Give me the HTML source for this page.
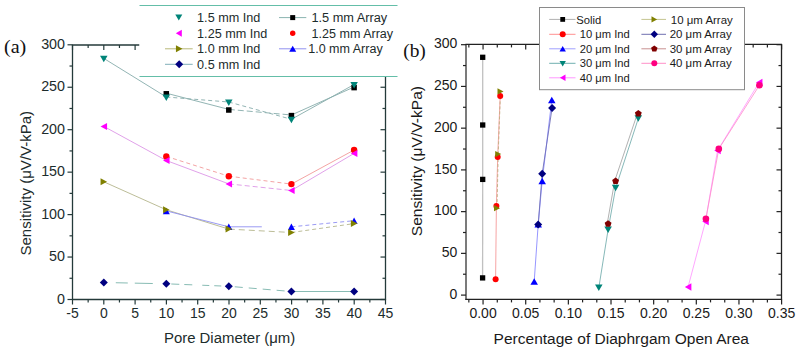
<!DOCTYPE html>
<html><head><meta charset="utf-8"><style>
html,body{margin:0;padding:0;background:#fff;}
svg{display:block;}
</style></head><body>
<svg width="800" height="352" viewBox="0 0 800 352">
<rect width="800" height="352" fill="#fff"/>
<line x1="72.50" y1="45.00" x2="72.50" y2="300.10" stroke="#243a3a" stroke-width="1.30"/>
<line x1="71.90" y1="299.50" x2="386.10" y2="299.50" stroke="#243a3a" stroke-width="1.30"/>
<line x1="71.90" y1="45.00" x2="139.50" y2="45.00" stroke="#243a3a" stroke-width="1.30"/>
<line x1="385.50" y1="76.50" x2="385.50" y2="299.50" stroke="#243a3a" stroke-width="1.30"/>
<line x1="72.50" y1="299.50" x2="72.50" y2="304.50" stroke="#243a3a" stroke-width="1.20"/>
<line x1="72.50" y1="45.00" x2="72.50" y2="50.00" stroke="#243a3a" stroke-width="1.20"/>
<line x1="88.15" y1="299.50" x2="88.15" y2="302.50" stroke="#243a3a" stroke-width="1.20"/>
<line x1="88.15" y1="45.00" x2="88.15" y2="48.00" stroke="#243a3a" stroke-width="1.20"/>
<line x1="103.80" y1="299.50" x2="103.80" y2="304.50" stroke="#243a3a" stroke-width="1.20"/>
<line x1="103.80" y1="45.00" x2="103.80" y2="50.00" stroke="#243a3a" stroke-width="1.20"/>
<line x1="119.45" y1="299.50" x2="119.45" y2="302.50" stroke="#243a3a" stroke-width="1.20"/>
<line x1="119.45" y1="45.00" x2="119.45" y2="48.00" stroke="#243a3a" stroke-width="1.20"/>
<line x1="135.10" y1="299.50" x2="135.10" y2="304.50" stroke="#243a3a" stroke-width="1.20"/>
<line x1="135.10" y1="45.00" x2="135.10" y2="50.00" stroke="#243a3a" stroke-width="1.20"/>
<line x1="150.75" y1="299.50" x2="150.75" y2="302.50" stroke="#243a3a" stroke-width="1.20"/>
<line x1="166.40" y1="299.50" x2="166.40" y2="304.50" stroke="#243a3a" stroke-width="1.20"/>
<line x1="182.05" y1="299.50" x2="182.05" y2="302.50" stroke="#243a3a" stroke-width="1.20"/>
<line x1="197.70" y1="299.50" x2="197.70" y2="304.50" stroke="#243a3a" stroke-width="1.20"/>
<line x1="213.35" y1="299.50" x2="213.35" y2="302.50" stroke="#243a3a" stroke-width="1.20"/>
<line x1="229.00" y1="299.50" x2="229.00" y2="304.50" stroke="#243a3a" stroke-width="1.20"/>
<line x1="244.65" y1="299.50" x2="244.65" y2="302.50" stroke="#243a3a" stroke-width="1.20"/>
<line x1="260.30" y1="299.50" x2="260.30" y2="304.50" stroke="#243a3a" stroke-width="1.20"/>
<line x1="275.95" y1="299.50" x2="275.95" y2="302.50" stroke="#243a3a" stroke-width="1.20"/>
<line x1="291.60" y1="299.50" x2="291.60" y2="304.50" stroke="#243a3a" stroke-width="1.20"/>
<line x1="307.25" y1="299.50" x2="307.25" y2="302.50" stroke="#243a3a" stroke-width="1.20"/>
<line x1="322.90" y1="299.50" x2="322.90" y2="304.50" stroke="#243a3a" stroke-width="1.20"/>
<line x1="338.55" y1="299.50" x2="338.55" y2="302.50" stroke="#243a3a" stroke-width="1.20"/>
<line x1="354.20" y1="299.50" x2="354.20" y2="304.50" stroke="#243a3a" stroke-width="1.20"/>
<line x1="369.85" y1="299.50" x2="369.85" y2="302.50" stroke="#243a3a" stroke-width="1.20"/>
<line x1="385.50" y1="299.50" x2="385.50" y2="304.50" stroke="#243a3a" stroke-width="1.20"/>
<line x1="72.50" y1="299.50" x2="67.50" y2="299.50" stroke="#243a3a" stroke-width="1.20"/>
<line x1="385.50" y1="299.50" x2="380.50" y2="299.50" stroke="#243a3a" stroke-width="1.20"/>
<line x1="72.50" y1="278.27" x2="69.50" y2="278.27" stroke="#243a3a" stroke-width="1.20"/>
<line x1="385.50" y1="278.27" x2="382.50" y2="278.27" stroke="#243a3a" stroke-width="1.20"/>
<line x1="72.50" y1="257.05" x2="67.50" y2="257.05" stroke="#243a3a" stroke-width="1.20"/>
<line x1="385.50" y1="257.05" x2="380.50" y2="257.05" stroke="#243a3a" stroke-width="1.20"/>
<line x1="72.50" y1="235.82" x2="69.50" y2="235.82" stroke="#243a3a" stroke-width="1.20"/>
<line x1="385.50" y1="235.82" x2="382.50" y2="235.82" stroke="#243a3a" stroke-width="1.20"/>
<line x1="72.50" y1="214.60" x2="67.50" y2="214.60" stroke="#243a3a" stroke-width="1.20"/>
<line x1="385.50" y1="214.60" x2="380.50" y2="214.60" stroke="#243a3a" stroke-width="1.20"/>
<line x1="72.50" y1="193.38" x2="69.50" y2="193.38" stroke="#243a3a" stroke-width="1.20"/>
<line x1="385.50" y1="193.38" x2="382.50" y2="193.38" stroke="#243a3a" stroke-width="1.20"/>
<line x1="72.50" y1="172.15" x2="67.50" y2="172.15" stroke="#243a3a" stroke-width="1.20"/>
<line x1="385.50" y1="172.15" x2="380.50" y2="172.15" stroke="#243a3a" stroke-width="1.20"/>
<line x1="72.50" y1="150.93" x2="69.50" y2="150.93" stroke="#243a3a" stroke-width="1.20"/>
<line x1="385.50" y1="150.93" x2="382.50" y2="150.93" stroke="#243a3a" stroke-width="1.20"/>
<line x1="72.50" y1="129.70" x2="67.50" y2="129.70" stroke="#243a3a" stroke-width="1.20"/>
<line x1="385.50" y1="129.70" x2="380.50" y2="129.70" stroke="#243a3a" stroke-width="1.20"/>
<line x1="72.50" y1="108.47" x2="69.50" y2="108.47" stroke="#243a3a" stroke-width="1.20"/>
<line x1="385.50" y1="108.47" x2="382.50" y2="108.47" stroke="#243a3a" stroke-width="1.20"/>
<line x1="72.50" y1="87.25" x2="67.50" y2="87.25" stroke="#243a3a" stroke-width="1.20"/>
<line x1="385.50" y1="87.25" x2="380.50" y2="87.25" stroke="#243a3a" stroke-width="1.20"/>
<line x1="72.50" y1="66.03" x2="69.50" y2="66.03" stroke="#243a3a" stroke-width="1.20"/>
<line x1="72.50" y1="44.80" x2="67.50" y2="44.80" stroke="#243a3a" stroke-width="1.20"/>
<text x="72.50" y="318.00" font-family="Liberation Sans" font-size="14.00" fill="#1c2c2c" text-anchor="middle">-5</text>
<text x="103.80" y="318.00" font-family="Liberation Sans" font-size="14.00" fill="#1c2c2c" text-anchor="middle">0</text>
<text x="135.10" y="318.00" font-family="Liberation Sans" font-size="14.00" fill="#1c2c2c" text-anchor="middle">5</text>
<text x="166.40" y="318.00" font-family="Liberation Sans" font-size="14.00" fill="#1c2c2c" text-anchor="middle">10</text>
<text x="197.70" y="318.00" font-family="Liberation Sans" font-size="14.00" fill="#1c2c2c" text-anchor="middle">15</text>
<text x="229.00" y="318.00" font-family="Liberation Sans" font-size="14.00" fill="#1c2c2c" text-anchor="middle">20</text>
<text x="260.30" y="318.00" font-family="Liberation Sans" font-size="14.00" fill="#1c2c2c" text-anchor="middle">25</text>
<text x="291.60" y="318.00" font-family="Liberation Sans" font-size="14.00" fill="#1c2c2c" text-anchor="middle">30</text>
<text x="322.90" y="318.00" font-family="Liberation Sans" font-size="14.00" fill="#1c2c2c" text-anchor="middle">35</text>
<text x="354.20" y="318.00" font-family="Liberation Sans" font-size="14.00" fill="#1c2c2c" text-anchor="middle">40</text>
<text x="385.50" y="318.00" font-family="Liberation Sans" font-size="14.00" fill="#1c2c2c" text-anchor="middle">45</text>
<text x="65.00" y="303.60" font-family="Liberation Sans" font-size="14.30" fill="#1c2c2c" text-anchor="end">0</text>
<text x="65.00" y="261.15" font-family="Liberation Sans" font-size="14.30" fill="#1c2c2c" text-anchor="end">50</text>
<text x="65.00" y="218.70" font-family="Liberation Sans" font-size="14.30" fill="#1c2c2c" text-anchor="end">100</text>
<text x="65.00" y="176.25" font-family="Liberation Sans" font-size="14.30" fill="#1c2c2c" text-anchor="end">150</text>
<text x="65.00" y="133.80" font-family="Liberation Sans" font-size="14.30" fill="#1c2c2c" text-anchor="end">200</text>
<text x="65.00" y="91.35" font-family="Liberation Sans" font-size="14.30" fill="#1c2c2c" text-anchor="end">250</text>
<text x="65.00" y="48.90" font-family="Liberation Sans" font-size="14.30" fill="#1c2c2c" text-anchor="end">300</text>
<text x="229.60" y="343.00" font-family="Liberation Sans" font-size="14.00" fill="#1c2c2c" text-anchor="middle" textLength="131.30" lengthAdjust="spacingAndGlyphs">Pore Diameter (μm)</text>
<text transform="translate(31,183.25) rotate(-90)" font-family="Liberation Sans" font-size="14" fill="#1c2c2c" text-anchor="middle" textLength="144.6" lengthAdjust="spacingAndGlyphs">Sensitivity (μV/V-kPa)</text>
<text x="4.00" y="52.70" font-family="Liberation Serif" font-size="19.00" fill="#111" text-anchor="start" textLength="22.30" lengthAdjust="spacingAndGlyphs">(a)</text>
<line x1="103.80" y1="58.40" x2="166.30" y2="97.00" stroke="#86acaa" stroke-width="0.90"/>
<line x1="166.30" y1="97.00" x2="228.80" y2="102.00" stroke="#86acaa" stroke-width="0.90" stroke-dasharray="4,3"/>
<line x1="228.80" y1="102.00" x2="291.40" y2="119.30" stroke="#86acaa" stroke-width="0.90" stroke-dasharray="4,3"/>
<line x1="291.40" y1="119.30" x2="354.10" y2="84.50" stroke="#86acaa" stroke-width="0.90"/>
<line x1="166.30" y1="93.20" x2="228.80" y2="109.40" stroke="#86acaa" stroke-width="0.90"/>
<line x1="228.80" y1="109.40" x2="291.40" y2="115.00" stroke="#86acaa" stroke-width="0.90" stroke-dasharray="6,3"/>
<line x1="291.40" y1="115.00" x2="354.10" y2="87.00" stroke="#86acaa" stroke-width="0.90"/>
<line x1="103.80" y1="126.40" x2="166.30" y2="160.50" stroke="#dc96e6" stroke-width="0.90"/>
<line x1="166.30" y1="160.50" x2="228.80" y2="183.90" stroke="#dc96e6" stroke-width="0.90"/>
<line x1="228.80" y1="183.90" x2="291.40" y2="190.50" stroke="#dc96e6" stroke-width="0.90" stroke-dasharray="5,3"/>
<line x1="291.40" y1="190.50" x2="354.10" y2="153.40" stroke="#dc96e6" stroke-width="0.90"/>
<line x1="166.30" y1="156.40" x2="228.80" y2="176.20" stroke="#f29a9a" stroke-width="0.90" stroke-dasharray="4,3"/>
<line x1="228.80" y1="176.20" x2="291.40" y2="184.10" stroke="#f29a9a" stroke-width="0.90" stroke-dasharray="4,3"/>
<line x1="291.40" y1="184.10" x2="354.10" y2="150.00" stroke="#f29a9a" stroke-width="0.90"/>
<line x1="103.80" y1="181.80" x2="166.30" y2="209.80" stroke="#b4b68c" stroke-width="0.90"/>
<line x1="166.30" y1="209.80" x2="228.80" y2="229.10" stroke="#b4b68c" stroke-width="0.90"/>
<line x1="228.80" y1="229.10" x2="291.40" y2="232.50" stroke="#b4b68c" stroke-width="0.90" stroke-dasharray="6,4"/>
<line x1="291.40" y1="232.50" x2="354.10" y2="223.60" stroke="#b4b68c" stroke-width="0.90" stroke-dasharray="4,3"/>
<line x1="166.30" y1="210.90" x2="228.80" y2="226.80" stroke="#8e8ef2" stroke-width="0.90"/>
<line x1="228.80" y1="226.80" x2="291.40" y2="226.80" stroke="#8e8ef2" stroke-width="0.90" stroke-dasharray="33,40"/>
<line x1="291.40" y1="226.80" x2="354.10" y2="220.70" stroke="#8e8ef2" stroke-width="0.90" stroke-dasharray="4,3"/>
<line x1="103.80" y1="282.50" x2="166.30" y2="283.80" stroke="#88bcb4" stroke-width="1.00" stroke-dasharray="0,12,12,7,18,100"/>
<line x1="166.30" y1="283.80" x2="228.80" y2="286.30" stroke="#88bcb4" stroke-width="1.00" stroke-dasharray="0,5,8,5,8,10,7,5,7,100"/>
<line x1="228.80" y1="286.30" x2="291.40" y2="291.50" stroke="#88bcb4" stroke-width="1.00" stroke-dasharray="0,6,8,6,8,6,8,6,8,100"/>
<line x1="291.40" y1="291.50" x2="354.10" y2="291.50" stroke="#88bcb4" stroke-width="1.00"/>
<polygon points="100.05,55.85 107.55,55.85 103.80,62.35" fill="#008478"/>
<rect x="163.55" y="91.05" width="5.50" height="5.50" fill="#000"/>
<polygon points="162.55,94.45 170.05,94.45 166.30,100.95" fill="#008478"/>
<rect x="226.05" y="107.25" width="5.50" height="5.50" fill="#000"/>
<polygon points="225.05,99.45 232.55,99.45 228.80,105.95" fill="#008478"/>
<rect x="288.65" y="112.85" width="5.50" height="5.50" fill="#000"/>
<polygon points="287.65,116.75 295.15,116.75 291.40,123.25" fill="#008478"/>
<rect x="351.35" y="84.85" width="5.50" height="5.50" fill="#000"/>
<polygon points="350.35,81.95 357.85,81.95 354.10,88.45" fill="#008478"/>
<polygon points="107.05,122.90 107.05,129.90 100.55,126.40" fill="#ff00ff"/>
<circle cx="166.30" cy="156.40" r="3.20" fill="#ff0000"/>
<polygon points="169.55,157.00 169.55,164.00 163.05,160.50" fill="#ff00ff"/>
<circle cx="228.80" cy="176.20" r="3.20" fill="#ff0000"/>
<polygon points="232.05,180.40 232.05,187.40 225.55,183.90" fill="#ff00ff"/>
<circle cx="291.40" cy="184.10" r="3.20" fill="#ff0000"/>
<polygon points="294.65,187.00 294.65,194.00 288.15,190.50" fill="#ff00ff"/>
<circle cx="354.10" cy="150.00" r="3.20" fill="#ff0000"/>
<polygon points="357.35,149.90 357.35,156.90 350.85,153.40" fill="#ff00ff"/>
<polygon points="100.55,178.30 100.55,185.30 107.05,181.80" fill="#808000"/>
<polygon points="162.80,214.15 169.80,214.15 166.30,207.65" fill="#0000ff"/>
<polygon points="163.05,206.30 163.05,213.30 169.55,209.80" fill="#808000"/>
<polygon points="225.30,230.05 232.30,230.05 228.80,223.55" fill="#0000ff"/>
<polygon points="225.55,225.60 225.55,232.60 232.05,229.10" fill="#808000"/>
<polygon points="287.90,230.05 294.90,230.05 291.40,223.55" fill="#0000ff"/>
<polygon points="288.15,229.00 288.15,236.00 294.65,232.50" fill="#808000"/>
<polygon points="350.60,223.95 357.60,223.95 354.10,217.45" fill="#0000ff"/>
<polygon points="350.85,220.10 350.85,227.10 357.35,223.60" fill="#808000"/>
<polygon points="103.80,278.50 107.80,282.50 103.80,286.50 99.80,282.50" fill="#000080"/>
<polygon points="166.30,279.80 170.30,283.80 166.30,287.80 162.30,283.80" fill="#000080"/>
<polygon points="228.80,282.30 232.80,286.30 228.80,290.30 224.80,286.30" fill="#000080"/>
<polygon points="291.40,287.50 295.40,291.50 291.40,295.50 287.40,291.50" fill="#000080"/>
<polygon points="354.10,287.50 358.10,291.50 354.10,295.50 350.10,291.50" fill="#000080"/>
<rect x="139.5" y="6" width="258" height="70" fill="#fff"/>
<line x1="139.50" y1="5.50" x2="397.50" y2="5.50" stroke="#64bea8" stroke-width="1.10"/>
<line x1="139.50" y1="76.50" x2="397.50" y2="76.50" stroke="#64bea8" stroke-width="1.10"/>
<polygon points="175.30,14.60 182.30,14.60 178.80,20.60" fill="#008478"/>
<polygon points="181.80,29.70 181.80,36.70 175.80,33.20" fill="#ff00ff"/>
<line x1="165.00" y1="48.80" x2="192.70" y2="48.80" stroke="#b8b878" stroke-width="1.00"/>
<polygon points="175.95,45.30 175.95,52.30 182.45,48.80" fill="#808000"/>
<line x1="165.00" y1="64.30" x2="192.70" y2="64.30" stroke="#80aeb8" stroke-width="1.00"/>
<polygon points="179.20,60.30 183.20,64.30 179.20,68.30 175.20,64.30" fill="#000080"/>
<text x="197.10" y="21.90" font-family="Liberation Sans" font-size="12.00" fill="#1c2c2c" text-anchor="start" textLength="63.20" lengthAdjust="spacingAndGlyphs">1.5 mm Ind</text>
<text x="197.10" y="37.50" font-family="Liberation Sans" font-size="12.00" fill="#1c2c2c" text-anchor="start" textLength="70.20" lengthAdjust="spacingAndGlyphs">1.25 mm Ind</text>
<text x="197.10" y="53.10" font-family="Liberation Sans" font-size="12.00" fill="#1c2c2c" text-anchor="start" textLength="63.20" lengthAdjust="spacingAndGlyphs">1.0 mm Ind</text>
<text x="197.10" y="68.60" font-family="Liberation Sans" font-size="12.00" fill="#1c2c2c" text-anchor="start" textLength="63.20" lengthAdjust="spacingAndGlyphs">0.5 mm Ind</text>
<line x1="279.00" y1="17.60" x2="306.30" y2="17.60" stroke="#8ab4b0" stroke-width="1.00"/>
<rect x="290.20" y="15.10" width="5.00" height="5.00" fill="#000"/>
<circle cx="292.70" cy="33.20" r="2.70" fill="#ff0000"/>
<line x1="279.00" y1="48.80" x2="306.30" y2="48.80" stroke="#9090f0" stroke-width="1.00"/>
<polygon points="289.20,51.80 296.20,51.80 292.70,45.80" fill="#0000ff"/>
<text x="311.40" y="21.90" font-family="Liberation Sans" font-size="12.00" fill="#1c2c2c" text-anchor="start" textLength="75.80" lengthAdjust="spacingAndGlyphs">1.5 mm Array</text>
<text x="311.60" y="37.50" font-family="Liberation Sans" font-size="12.00" fill="#1c2c2c" text-anchor="start" textLength="81.50" lengthAdjust="spacingAndGlyphs">1.25 mm Array</text>
<text x="308.20" y="53.10" font-family="Liberation Sans" font-size="12.00" fill="#1c2c2c" text-anchor="start" textLength="74.50" lengthAdjust="spacingAndGlyphs">1.0 mm Array</text>
<line x1="466.00" y1="44.40" x2="466.00" y2="300.00" stroke="#5a5a5a" stroke-width="1.60"/>
<line x1="465.40" y1="299.40" x2="782.10" y2="299.40" stroke="#222" stroke-width="1.30"/>
<line x1="465.40" y1="44.40" x2="782.10" y2="44.40" stroke="#222" stroke-width="1.30"/>
<line x1="781.50" y1="44.40" x2="781.50" y2="299.40" stroke="#222" stroke-width="1.30"/>
<line x1="468.84" y1="299.40" x2="468.84" y2="302.40" stroke="#222" stroke-width="1.20"/>
<line x1="468.84" y1="44.40" x2="468.84" y2="47.40" stroke="#222" stroke-width="1.20"/>
<line x1="483.06" y1="299.40" x2="483.06" y2="304.40" stroke="#222" stroke-width="1.20"/>
<line x1="483.06" y1="44.40" x2="483.06" y2="49.40" stroke="#222" stroke-width="1.20"/>
<line x1="497.28" y1="299.40" x2="497.28" y2="302.40" stroke="#222" stroke-width="1.20"/>
<line x1="497.28" y1="44.40" x2="497.28" y2="47.40" stroke="#222" stroke-width="1.20"/>
<line x1="511.49" y1="299.40" x2="511.49" y2="302.40" stroke="#222" stroke-width="1.20"/>
<line x1="511.49" y1="44.40" x2="511.49" y2="47.40" stroke="#222" stroke-width="1.20"/>
<line x1="525.71" y1="299.40" x2="525.71" y2="304.40" stroke="#222" stroke-width="1.20"/>
<line x1="525.71" y1="44.40" x2="525.71" y2="49.40" stroke="#222" stroke-width="1.20"/>
<line x1="539.93" y1="299.40" x2="539.93" y2="302.40" stroke="#222" stroke-width="1.20"/>
<line x1="539.93" y1="44.40" x2="539.93" y2="47.40" stroke="#222" stroke-width="1.20"/>
<line x1="554.14" y1="299.40" x2="554.14" y2="302.40" stroke="#222" stroke-width="1.20"/>
<line x1="554.14" y1="44.40" x2="554.14" y2="47.40" stroke="#222" stroke-width="1.20"/>
<line x1="568.36" y1="299.40" x2="568.36" y2="304.40" stroke="#222" stroke-width="1.20"/>
<line x1="568.36" y1="44.40" x2="568.36" y2="49.40" stroke="#222" stroke-width="1.20"/>
<line x1="582.58" y1="299.40" x2="582.58" y2="302.40" stroke="#222" stroke-width="1.20"/>
<line x1="582.58" y1="44.40" x2="582.58" y2="47.40" stroke="#222" stroke-width="1.20"/>
<line x1="596.79" y1="299.40" x2="596.79" y2="302.40" stroke="#222" stroke-width="1.20"/>
<line x1="596.79" y1="44.40" x2="596.79" y2="47.40" stroke="#222" stroke-width="1.20"/>
<line x1="611.01" y1="299.40" x2="611.01" y2="304.40" stroke="#222" stroke-width="1.20"/>
<line x1="611.01" y1="44.40" x2="611.01" y2="49.40" stroke="#222" stroke-width="1.20"/>
<line x1="625.23" y1="299.40" x2="625.23" y2="302.40" stroke="#222" stroke-width="1.20"/>
<line x1="625.23" y1="44.40" x2="625.23" y2="47.40" stroke="#222" stroke-width="1.20"/>
<line x1="639.44" y1="299.40" x2="639.44" y2="302.40" stroke="#222" stroke-width="1.20"/>
<line x1="639.44" y1="44.40" x2="639.44" y2="47.40" stroke="#222" stroke-width="1.20"/>
<line x1="653.66" y1="299.40" x2="653.66" y2="304.40" stroke="#222" stroke-width="1.20"/>
<line x1="653.66" y1="44.40" x2="653.66" y2="49.40" stroke="#222" stroke-width="1.20"/>
<line x1="667.88" y1="299.40" x2="667.88" y2="302.40" stroke="#222" stroke-width="1.20"/>
<line x1="667.88" y1="44.40" x2="667.88" y2="47.40" stroke="#222" stroke-width="1.20"/>
<line x1="682.09" y1="299.40" x2="682.09" y2="302.40" stroke="#222" stroke-width="1.20"/>
<line x1="682.09" y1="44.40" x2="682.09" y2="47.40" stroke="#222" stroke-width="1.20"/>
<line x1="696.31" y1="299.40" x2="696.31" y2="304.40" stroke="#222" stroke-width="1.20"/>
<line x1="696.31" y1="44.40" x2="696.31" y2="49.40" stroke="#222" stroke-width="1.20"/>
<line x1="710.53" y1="299.40" x2="710.53" y2="302.40" stroke="#222" stroke-width="1.20"/>
<line x1="710.53" y1="44.40" x2="710.53" y2="47.40" stroke="#222" stroke-width="1.20"/>
<line x1="724.74" y1="299.40" x2="724.74" y2="302.40" stroke="#222" stroke-width="1.20"/>
<line x1="724.74" y1="44.40" x2="724.74" y2="47.40" stroke="#222" stroke-width="1.20"/>
<line x1="738.96" y1="299.40" x2="738.96" y2="304.40" stroke="#222" stroke-width="1.20"/>
<line x1="738.96" y1="44.40" x2="738.96" y2="49.40" stroke="#222" stroke-width="1.20"/>
<line x1="753.18" y1="299.40" x2="753.18" y2="302.40" stroke="#222" stroke-width="1.20"/>
<line x1="753.18" y1="44.40" x2="753.18" y2="47.40" stroke="#222" stroke-width="1.20"/>
<line x1="767.39" y1="299.40" x2="767.39" y2="302.40" stroke="#222" stroke-width="1.20"/>
<line x1="767.39" y1="44.40" x2="767.39" y2="47.40" stroke="#222" stroke-width="1.20"/>
<line x1="781.61" y1="299.40" x2="781.61" y2="304.40" stroke="#222" stroke-width="1.20"/>
<line x1="781.61" y1="44.40" x2="781.61" y2="49.40" stroke="#222" stroke-width="1.20"/>
<text x="483.06" y="318.30" font-family="Liberation Sans" font-size="14.00" fill="#1a1a1a" text-anchor="middle">0.00</text>
<text x="525.71" y="318.30" font-family="Liberation Sans" font-size="14.00" fill="#1a1a1a" text-anchor="middle">0.05</text>
<text x="568.36" y="318.30" font-family="Liberation Sans" font-size="14.00" fill="#1a1a1a" text-anchor="middle">0.10</text>
<text x="611.01" y="318.30" font-family="Liberation Sans" font-size="14.00" fill="#1a1a1a" text-anchor="middle">0.15</text>
<text x="653.66" y="318.30" font-family="Liberation Sans" font-size="14.00" fill="#1a1a1a" text-anchor="middle">0.20</text>
<text x="696.31" y="318.30" font-family="Liberation Sans" font-size="14.00" fill="#1a1a1a" text-anchor="middle">0.25</text>
<text x="738.96" y="318.30" font-family="Liberation Sans" font-size="14.00" fill="#1a1a1a" text-anchor="middle">0.30</text>
<text x="781.61" y="318.30" font-family="Liberation Sans" font-size="14.00" fill="#1a1a1a" text-anchor="middle">0.35</text>
<line x1="466.00" y1="295.10" x2="461.00" y2="295.10" stroke="#222" stroke-width="1.20"/>
<line x1="781.50" y1="295.10" x2="776.50" y2="295.10" stroke="#222" stroke-width="1.20"/>
<line x1="466.00" y1="274.23" x2="463.00" y2="274.23" stroke="#222" stroke-width="1.20"/>
<line x1="781.50" y1="274.23" x2="778.50" y2="274.23" stroke="#222" stroke-width="1.20"/>
<line x1="466.00" y1="253.37" x2="461.00" y2="253.37" stroke="#222" stroke-width="1.20"/>
<line x1="781.50" y1="253.37" x2="776.50" y2="253.37" stroke="#222" stroke-width="1.20"/>
<line x1="466.00" y1="232.50" x2="463.00" y2="232.50" stroke="#222" stroke-width="1.20"/>
<line x1="781.50" y1="232.50" x2="778.50" y2="232.50" stroke="#222" stroke-width="1.20"/>
<line x1="466.00" y1="211.63" x2="461.00" y2="211.63" stroke="#222" stroke-width="1.20"/>
<line x1="781.50" y1="211.63" x2="776.50" y2="211.63" stroke="#222" stroke-width="1.20"/>
<line x1="466.00" y1="190.76" x2="463.00" y2="190.76" stroke="#222" stroke-width="1.20"/>
<line x1="781.50" y1="190.76" x2="778.50" y2="190.76" stroke="#222" stroke-width="1.20"/>
<line x1="466.00" y1="169.90" x2="461.00" y2="169.90" stroke="#222" stroke-width="1.20"/>
<line x1="781.50" y1="169.90" x2="776.50" y2="169.90" stroke="#222" stroke-width="1.20"/>
<line x1="466.00" y1="149.03" x2="463.00" y2="149.03" stroke="#222" stroke-width="1.20"/>
<line x1="781.50" y1="149.03" x2="778.50" y2="149.03" stroke="#222" stroke-width="1.20"/>
<line x1="466.00" y1="128.16" x2="461.00" y2="128.16" stroke="#222" stroke-width="1.20"/>
<line x1="781.50" y1="128.16" x2="776.50" y2="128.16" stroke="#222" stroke-width="1.20"/>
<line x1="466.00" y1="107.29" x2="463.00" y2="107.29" stroke="#222" stroke-width="1.20"/>
<line x1="781.50" y1="107.29" x2="778.50" y2="107.29" stroke="#222" stroke-width="1.20"/>
<line x1="466.00" y1="86.43" x2="461.00" y2="86.43" stroke="#222" stroke-width="1.20"/>
<line x1="781.50" y1="86.43" x2="776.50" y2="86.43" stroke="#222" stroke-width="1.20"/>
<line x1="466.00" y1="65.56" x2="463.00" y2="65.56" stroke="#222" stroke-width="1.20"/>
<line x1="781.50" y1="65.56" x2="778.50" y2="65.56" stroke="#222" stroke-width="1.20"/>
<line x1="466.00" y1="44.69" x2="461.00" y2="44.69" stroke="#222" stroke-width="1.20"/>
<line x1="781.50" y1="44.69" x2="776.50" y2="44.69" stroke="#222" stroke-width="1.20"/>
<text x="457.40" y="298.70" font-family="Liberation Sans" font-size="14.00" fill="#1a1a1a" text-anchor="end">0</text>
<text x="457.40" y="256.97" font-family="Liberation Sans" font-size="14.00" fill="#1a1a1a" text-anchor="end">50</text>
<text x="457.40" y="215.23" font-family="Liberation Sans" font-size="14.00" fill="#1a1a1a" text-anchor="end">100</text>
<text x="457.40" y="173.50" font-family="Liberation Sans" font-size="14.00" fill="#1a1a1a" text-anchor="end">150</text>
<text x="457.40" y="131.76" font-family="Liberation Sans" font-size="14.00" fill="#1a1a1a" text-anchor="end">200</text>
<text x="457.40" y="90.03" font-family="Liberation Sans" font-size="14.00" fill="#1a1a1a" text-anchor="end">250</text>
<text x="457.40" y="48.29" font-family="Liberation Sans" font-size="14.00" fill="#1a1a1a" text-anchor="end">300</text>
<text x="621.30" y="343.60" font-family="Liberation Sans" font-size="14.00" fill="#1a1a1a" text-anchor="middle" textLength="255.40" lengthAdjust="spacingAndGlyphs">Percentage of Diaphrgam Open Area</text>
<text transform="translate(422,161.1) rotate(-90)" font-family="Liberation Sans" font-size="14" fill="#1a1a1a" text-anchor="middle" textLength="150.2" lengthAdjust="spacingAndGlyphs">Sensitivity (μV/V-kPa)</text>
<text x="403.20" y="56.50" font-family="Liberation Serif" font-size="19.00" fill="#111" text-anchor="start" textLength="22.60" lengthAdjust="spacingAndGlyphs">(b)</text>
<line x1="482.70" y1="57.00" x2="482.70" y2="124.70" stroke="#c0c0c0" stroke-width="1.30"/>
<line x1="482.70" y1="124.70" x2="482.70" y2="179.10" stroke="#c0c0c0" stroke-width="1.30"/>
<line x1="482.70" y1="179.10" x2="482.60" y2="277.60" stroke="#c0c0c0" stroke-width="1.30"/>
<line x1="500.20" y1="95.90" x2="497.70" y2="157.00" stroke="#f59a9a" stroke-width="0.90"/>
<line x1="497.70" y1="157.00" x2="496.40" y2="205.90" stroke="#f59a9a" stroke-width="0.90"/>
<line x1="496.40" y1="205.90" x2="495.60" y2="279.30" stroke="#f59a9a" stroke-width="0.90"/>
<line x1="500.50" y1="91.40" x2="498.20" y2="154.10" stroke="#c0b080" stroke-width="0.90" stroke-dasharray="3,2"/>
<line x1="498.20" y1="154.10" x2="497.00" y2="208.20" stroke="#c0b080" stroke-width="0.90" stroke-dasharray="3,2"/>
<line x1="551.80" y1="99.90" x2="542.20" y2="180.90" stroke="#8a8aff" stroke-width="0.90"/>
<line x1="542.20" y1="180.90" x2="538.20" y2="224.30" stroke="#8a8aff" stroke-width="0.90"/>
<line x1="538.20" y1="224.30" x2="534.20" y2="281.50" stroke="#8a8aff" stroke-width="0.90"/>
<line x1="552.10" y1="107.90" x2="542.20" y2="173.80" stroke="#7070b8" stroke-width="0.90"/>
<line x1="542.20" y1="173.80" x2="538.20" y2="224.60" stroke="#7070b8" stroke-width="0.90"/>
<line x1="638.30" y1="118.50" x2="615.60" y2="188.10" stroke="#78b0b0" stroke-width="0.90"/>
<line x1="615.60" y1="188.10" x2="608.10" y2="229.70" stroke="#78b0b0" stroke-width="0.90"/>
<line x1="608.10" y1="229.70" x2="598.80" y2="287.80" stroke="#78b0b0" stroke-width="0.90"/>
<line x1="637.40" y1="113.60" x2="614.70" y2="181.00" stroke="#a8a8a8" stroke-width="0.90"/>
<line x1="614.70" y1="181.00" x2="607.20" y2="223.80" stroke="#a8a8a8" stroke-width="0.90"/>
<line x1="759.20" y1="82.40" x2="717.50" y2="150.60" stroke="#ff90ff" stroke-width="0.80"/>
<line x1="717.50" y1="150.60" x2="705.50" y2="221.40" stroke="#ff90ff" stroke-width="0.80"/>
<line x1="705.50" y1="221.40" x2="688.10" y2="286.90" stroke="#ff90ff" stroke-width="0.80"/>
<line x1="759.40" y1="85.30" x2="718.80" y2="148.90" stroke="#ff8cc8" stroke-width="0.80"/>
<line x1="718.80" y1="148.90" x2="705.90" y2="218.70" stroke="#ff8cc8" stroke-width="0.80"/>
<rect x="480.05" y="54.65" width="5.30" height="5.30" fill="#000"/>
<rect x="480.05" y="122.35" width="5.30" height="5.30" fill="#000"/>
<rect x="480.05" y="176.75" width="5.30" height="5.30" fill="#000"/>
<rect x="479.95" y="275.25" width="5.30" height="5.30" fill="#000"/>
<circle cx="500.20" cy="95.90" r="3.00" fill="#ff0000"/>
<circle cx="497.70" cy="157.00" r="3.00" fill="#ff0000"/>
<circle cx="496.40" cy="205.90" r="3.00" fill="#ff0000"/>
<circle cx="495.60" cy="279.30" r="3.00" fill="#ff0000"/>
<polygon points="497.50,88.30 497.50,94.50 503.50,91.40" fill="#808000"/>
<polygon points="495.20,151.00 495.20,157.20 501.20,154.10" fill="#808000"/>
<polygon points="494.00,205.10 494.00,211.30 500.00,208.20" fill="#808000"/>
<polygon points="548.05,103.15 555.55,103.15 551.80,96.65" fill="#0000ff"/>
<polygon points="538.45,184.15 545.95,184.15 542.20,177.65" fill="#0000ff"/>
<polygon points="534.45,227.55 541.95,227.55 538.20,221.05" fill="#0000ff"/>
<polygon points="530.45,284.75 537.95,284.75 534.20,278.25" fill="#0000ff"/>
<polygon points="552.10,103.90 556.10,107.90 552.10,111.90 548.10,107.90" fill="#000080"/>
<polygon points="542.20,169.80 546.20,173.80 542.20,177.80 538.20,173.80" fill="#000080"/>
<polygon points="538.20,220.60 542.20,224.60 538.20,228.60 534.20,224.60" fill="#000080"/>
<polygon points="634.55,115.25 642.05,115.25 638.30,121.75" fill="#008478"/>
<polygon points="611.85,184.85 619.35,184.85 615.60,191.35" fill="#008478"/>
<polygon points="604.35,226.45 611.85,226.45 608.10,232.95" fill="#008478"/>
<polygon points="595.05,284.55 602.55,284.55 598.80,291.05" fill="#008478"/>
<polygon points="638.30,110.00 641.72,112.49 640.42,116.51 636.18,116.51 634.88,112.49" fill="#800000"/>
<polygon points="615.60,177.40 619.02,179.89 617.72,183.91 613.48,183.91 612.18,179.89" fill="#800000"/>
<polygon points="608.10,220.20 611.52,222.69 610.22,226.71 605.98,226.71 604.68,222.69" fill="#800000"/>
<polygon points="762.45,78.65 762.45,86.15 755.95,82.40" fill="#ff00ff"/>
<polygon points="720.75,146.85 720.75,154.35 714.25,150.60" fill="#ff00ff"/>
<polygon points="708.75,217.65 708.75,225.15 702.25,221.40" fill="#ff00ff"/>
<polygon points="691.35,283.15 691.35,290.65 684.85,286.90" fill="#ff00ff"/>
<circle cx="759.40" cy="85.30" r="3.30" fill="#ff0080"/>
<circle cx="718.80" cy="148.90" r="3.30" fill="#ff0080"/>
<circle cx="705.90" cy="218.70" r="3.30" fill="#ff0080"/>
<rect x="539.5" y="7.5" width="205" height="82.2" fill="#fff" stroke="#8a8a8a" stroke-width="1"/>
<line x1="549.20" y1="19.40" x2="575.50" y2="19.40" stroke="#b0b0b0" stroke-width="1.00"/>
<rect x="560.30" y="17.00" width="4.80" height="4.80" fill="#000"/>
<line x1="549.20" y1="34.30" x2="575.50" y2="34.30" stroke="#ff9090" stroke-width="1.00"/>
<circle cx="562.70" cy="34.30" r="3.00" fill="#ff0000"/>
<line x1="549.20" y1="48.80" x2="575.50" y2="48.80" stroke="#a0a0ff" stroke-width="1.00"/>
<polygon points="559.50,51.60 565.90,51.60 562.70,46.00" fill="#0000ff"/>
<line x1="549.20" y1="63.30" x2="575.50" y2="63.30" stroke="#70b0b0" stroke-width="1.00"/>
<polygon points="559.50,60.90 565.90,60.90 562.70,66.50" fill="#008478"/>
<line x1="549.20" y1="77.80" x2="575.50" y2="77.80" stroke="#ff98ff" stroke-width="1.00"/>
<polygon points="565.50,74.60 565.50,81.00 559.90,77.80" fill="#ff00ff"/>
<line x1="641.40" y1="19.40" x2="666.00" y2="19.40" stroke="#c4c490" stroke-width="1.00"/>
<polygon points="651.50,16.20 651.50,22.60 657.10,19.40" fill="#808000"/>
<line x1="641.40" y1="34.30" x2="666.00" y2="34.30" stroke="#7070b0" stroke-width="1.00"/>
<polygon points="654.30,30.60 658.00,34.30 654.30,38.00 650.60,34.30" fill="#000080"/>
<line x1="641.40" y1="48.80" x2="666.00" y2="48.80" stroke="#c89090" stroke-width="1.00"/>
<polygon points="654.30,45.40 657.53,47.75 656.30,51.55 652.30,51.55 651.07,47.75" fill="#800000"/>
<line x1="641.40" y1="63.30" x2="666.00" y2="63.30" stroke="#ff90c8" stroke-width="1.00"/>
<circle cx="654.30" cy="63.30" r="3.00" fill="#ff0080"/>
<text x="576.20" y="24.10" font-family="Liberation Sans" font-size="11.30" fill="#1a1a1a" text-anchor="start" textLength="25.00" lengthAdjust="spacingAndGlyphs">Solid</text>
<text x="579.80" y="38.40" font-family="Liberation Sans" font-size="11.30" fill="#1a1a1a" text-anchor="start" textLength="50.00" lengthAdjust="spacingAndGlyphs">10 μm Ind</text>
<text x="579.80" y="52.90" font-family="Liberation Sans" font-size="11.30" fill="#1a1a1a" text-anchor="start" textLength="50.00" lengthAdjust="spacingAndGlyphs">20 μm Ind</text>
<text x="579.80" y="67.40" font-family="Liberation Sans" font-size="11.30" fill="#1a1a1a" text-anchor="start" textLength="50.00" lengthAdjust="spacingAndGlyphs">30 μm Ind</text>
<text x="579.80" y="81.90" font-family="Liberation Sans" font-size="11.30" fill="#1a1a1a" text-anchor="start" textLength="50.00" lengthAdjust="spacingAndGlyphs">40 μm Ind</text>
<text x="670.80" y="23.70" font-family="Liberation Sans" font-size="11.30" fill="#1a1a1a" text-anchor="start" textLength="62.00" lengthAdjust="spacingAndGlyphs">10 μm Array</text>
<text x="669.70" y="38.40" font-family="Liberation Sans" font-size="11.30" fill="#1a1a1a" text-anchor="start" textLength="62.00" lengthAdjust="spacingAndGlyphs">20 μm Array</text>
<text x="669.70" y="52.90" font-family="Liberation Sans" font-size="11.30" fill="#1a1a1a" text-anchor="start" textLength="62.00" lengthAdjust="spacingAndGlyphs">30 μm Array</text>
<text x="669.70" y="67.40" font-family="Liberation Sans" font-size="11.30" fill="#1a1a1a" text-anchor="start" textLength="62.00" lengthAdjust="spacingAndGlyphs">40 μm Array</text>
</svg>
</body></html>
